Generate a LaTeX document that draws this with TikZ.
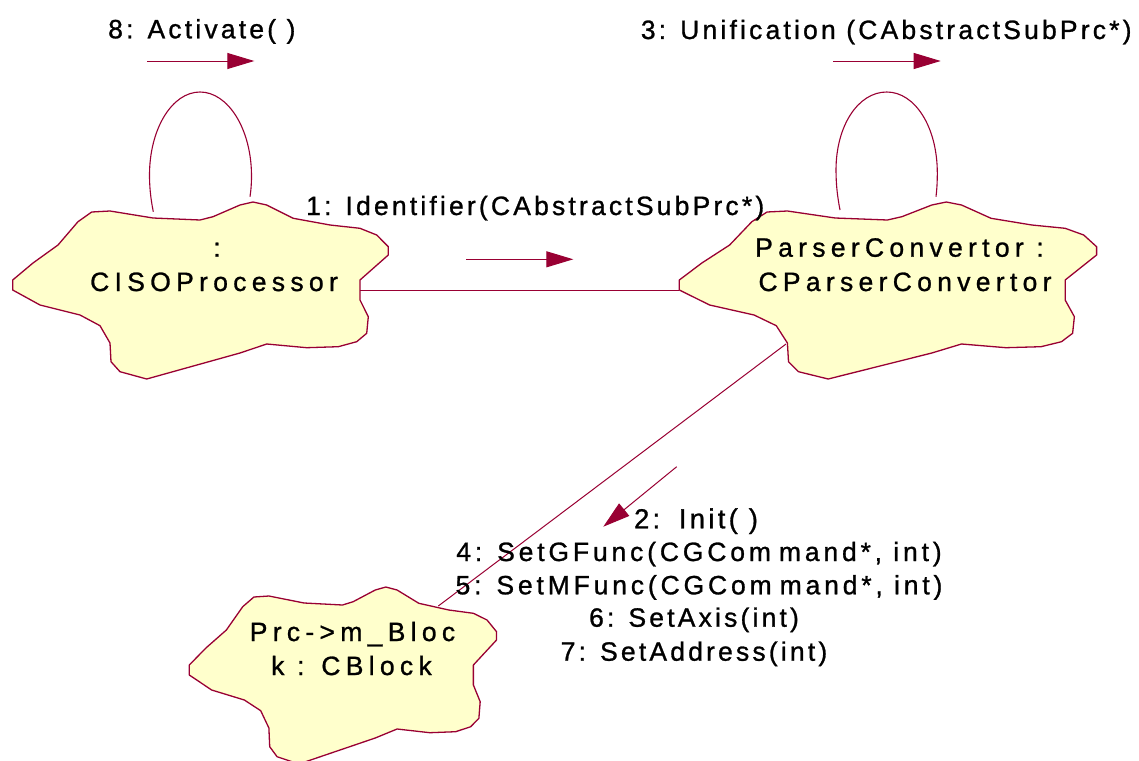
\documentclass[tikz,border=0pt]{standalone}
\usepackage{fontspec}
\setmainfont{Liberation Sans}
\newfontfamily\labelfont[LetterSpace=12,FakeBold=1,Ligatures=NoCommon]{Liberation Sans}
\newfontfamily\objfont[LetterSpace=20,FakeBold=1,Ligatures=NoCommon]{Liberation Sans}
\usetikzlibrary{arrows.meta}
\definecolor{rosered}{RGB}{153,0,51}
\definecolor{cloudfill}{RGB}{255,255,204}
\tikzset{
  outline/.style={draw=rosered, line width=1.3pt, fill=cloudfill, line join=round},
  link/.style={draw=rosered, line width=1pt},
  msgarrow/.style={draw=rosered, line width=1pt, -{Triangle[length=27pt,width=16pt]}},
  loopline/.style={draw=rosered, line width=1.1pt},
  objtext/.style={inner sep=0pt, anchor=base, font=\objfont\fontsize{26.5}{30}\selectfont},
  msgtext/.style={inner sep=0pt, anchor=base west, font=\labelfont\fontsize{26.5}{30}\selectfont},
  msgcenter/.style={inner sep=0pt, anchor=base, font=\labelfont\fontsize{26.5}{30}\selectfont},
  % object cloud, drawn from the upper point of its left tip
  cloudshape/.pic={
    \path[outline] (0,0) -- (0,10) -- (27.3,25) -- (67.3,35) -- (87.3,45.7) -- (97.3,63)
      -- (98.3,81.7) -- (107.3,91.7) -- (134,99) -- (227.3,73) -- (254,64)
      -- (294,67.7) -- (325.6,66.7) -- (344,61.7) -- (354,53.3) -- (355.6,36.7)
      -- (347.3,20) -- (347.3,0) -- (375.6,-25) -- (375.6,-33.3) -- (364,-45)
      -- (347.3,-51.7) -- (317.3,-55) -- (280.6,-61.7) -- (254,-75) -- (240.3,-78)
      -- (227.3,-75) -- (200.3,-63.3) -- (187.3,-60) -- (140.3,-62) -- (97.3,-69)
      -- (79,-68) -- (65.3,-58.3) -- (45.3,-35) -- (20.3,-17) -- cycle;
  }
}
\begin{document}
\begin{tikzpicture}[x=1pt,y=-1pt]
\fill[white] (0,0) rectangle (1139,760);
\useasboundingbox (0,0) rectangle (1139,760);

% self-message loops
\draw[loopline] (153.3,211.7) .. controls (150.5,198) and (149.5,186) .. (149.5,175)
  .. controls (149.5,129) and (172,92) .. (200,92)
  .. controls (228,92) and (251.5,129) .. (251.5,176)
  .. controls (251.5,184) and (251,190) .. (250,196.7);
\draw[loopline] (840,210) .. controls (837.5,197) and (836,185) .. (836,170)
  .. controls (836,126) and (858,92) .. (886.7,92)
  .. controls (915,92) and (937.3,127) .. (937.3,173)
  .. controls (937.3,183) and (936.8,190) .. (936,196.7);

% objects
\pic at (12.7,280) {cloudshape};
\pic[xscale=1.111] at (679.3,280) {cloudshape};
\pic[xscale=0.818] at (189.3,665) {cloudshape};

\node[objtext] (iso-a) at (217,256.7) {:};
\node[objtext] (iso-b) at (214,291) {CISOProcessor};
\node[objtext] (pc-a) at (899.5,256.7) {ParserConvertor :};
\node[objtext] (pc-b) at (905,291) {CParserConvertor};
\node[objtext] (blk-a) at (352.5,641) {Prc->m\_Bloc};
\node[objtext] (blk-b) at (351.5,675) {k : CBlock};

% links between objects
\coordinate (iso-e) at (360,290);
\coordinate (pc-w) at (679.3,290);
\coordinate (pc-sw) at (786,344);
\coordinate (blk-ne) at (438.3,606);
\draw[link] (iso-e) -- (pc-w);
\draw[link] (pc-sw) -- (blk-ne);

% message arrows
\coordinate (m8-s) at (147.3,61);   \coordinate (m8-e) at (254.3,61);
\coordinate (m3-s) at (833.3,61);   \coordinate (m3-e) at (940.7,61);
\coordinate (m1-s) at (466,259.3);  \coordinate (m1-e) at (573.3,259.3);
\coordinate (m2-s) at (676.7,466.7); \coordinate (m2-e) at (603.3,526.7);
\draw[msgarrow] (m8-s) -- (m8-e);
\draw[msgarrow] (m3-s) -- (m3-e);
\draw[msgarrow] (m1-s) -- (m1-e);
\draw[msgarrow] (m2-s) -- (m2-e);

% message labels
\node[msgtext] (lbl8) at (108,38.3) {8: Activate( )};
\node[msgtext] (lbl3) at (640.7,39) {3: Unification (CAbstractSubPrc*)};
\node[msgtext] (lbl1) at (306,215) {1: Identifier(CAbstractSubPrc*)};
\node[msgcenter, font=\labelfont\fontsize{27.5}{30}\selectfont] (lbl2) at (696,528.3) {2:\hspace{4pt} Init( )};
\node[msgcenter] (lbl4) at (699,561) {\addfontfeature{LetterSpace=14.5}4: SetGFunc(CGCom\hspace{8pt}mand*, int)};
\node[msgcenter] (lbl5) at (699,594.3) {\addfontfeature{LetterSpace=14.5}5: SetMFunc(CGCom\hspace{8pt}mand*, int)};
\node[msgcenter] (lbl6) at (694,626.7) {6: SetAxis(int)};
\node[msgcenter] (lbl7) at (694,660.7) {7: SetAddress(int)};
\end{tikzpicture}
\end{document}
